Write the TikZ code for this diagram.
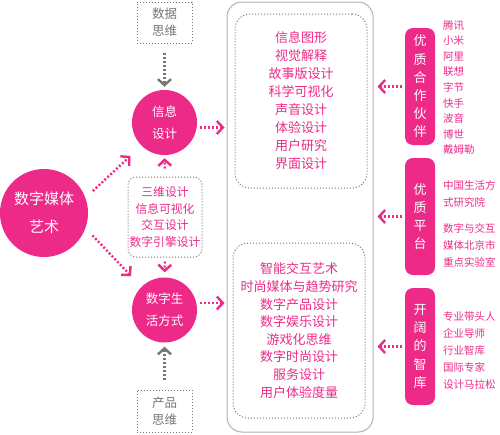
\documentclass[tikz,border=0pt]{standalone}
\usepackage{fontspec}
\setmainfont{Noto Sans CJK SC}
\usetikzlibrary{arrows.meta, positioning}
\usepackage{xcolor}
\definecolor{hotpink}{RGB}{238,42,137}
\definecolor{stonegray}{RGB}{118,118,118}
\definecolor{framegray}{RGB}{178,178,178}
\tikzset{hotpinknode/.style={circle, fill=hotpink, text=white, inner sep=0pt, align=center},hotpinktag/.style={rectangle, rounded corners=8pt, fill=hotpink, text=white, inner sep=0pt, align=center, minimum width=30pt, minimum height=117pt, font=\fontsize{13}{18.2}\selectfont}}
\tikzset{graybox/.style={draw=stonegray, dotted, line width=1pt, text=stonegray, align=center, inner sep=0pt},hotpinklist/.style={text=hotpink, align=left, anchor=west, inner sep=0pt, font=\fontsize{10.5}{15.6}\selectfont}}

\begin{document}
\begin{tikzpicture}[
        x=1pt, y=-1pt,
        pinkarrow/.style={hotpink, line width=2.4pt, dash pattern=on 2pt off 2pt, -{Straight Barb[length=6pt, width=13pt]}},
        grayarrow/.style={stonegray, line width=2.4pt, dash pattern=on 2pt off 2pt, -{Straight Barb[length=6pt, width=13pt]}},
    ]
        \useasboundingbox (0,0) rectangle (500,434);
        % Circles
        \node[hotpinknode, minimum size=88pt, font=\fontsize{15}{28}\selectfont] (art) at (44,213) {数字媒体\\艺术};
        \node[hotpinknode, minimum size=65pt, font=\fontsize{12.5}{22}\selectfont] (info) at (164.5,122.5) {信息\\设计};
        \node[hotpinknode, minimum size=65pt, font=\fontsize{12.5}{22}\selectfont] (life) at (164.5,310) {数字生\\活方式};
        % Thinking boxes
        \node[graybox, minimum width=55pt, minimum height=41pt, font=\fontsize{12.5}{17}\selectfont] (data) at (164.5,22.5) {数据\\思维};
        \node[graybox, minimum width=55pt, minimum height=42pt, font=\fontsize{12.5}{17}\selectfont] (product) at (164.5,411) {产品\\思维};
        \node[graybox, rounded corners=8pt, text=hotpink, minimum width=74pt, minimum height=80pt, font=\fontsize{11.8}{16.7}\selectfont] (skill) at (165,217) {三维设计\\信息可视化\\交互设计\\数字引擎设计};
        % Course frame
        \node[draw=framegray, line width=1pt, rounded corners=15pt, minimum width=146pt, minimum height=430pt] (outer) at (300,217) {};
        \node[graybox, rounded corners=15pt, text=hotpink, minimum width=132pt, minimum height=174pt, font=\fontsize{13}{18}\selectfont] (infocourses) at (301,101) {信息图形\\视觉解释\\故事版设计\\科学可视化\\声音设计\\体验设计\\用户研究\\界面设计};
        \node[graybox, rounded corners=15pt, text=hotpink, minimum width=132pt, minimum height=175pt, font=\fontsize{13}{17.6}\selectfont] (lifecourses) at (299,330.5) {智能交互艺术\\时尚媒体与趋势研究\\数字产品设计\\数字娱乐设计\\游戏化思维\\数字时尚设计\\服务设计\\用户体验度量};
        % Resource tags
        \node[hotpinktag] (partner) at (420,86.5) {优\\质\\合\\作\\伙\\伴};
        \node[hotpinktag] (platform) at (420,216.5) {优\\质\\平\\台};
        \node[hotpinktag] (think) at (420,346.5) {开\\阔\\的\\智\\库};
        \node[hotpinklist] (partnernames) at (443,87.5) {腾讯\\小米\\阿里\\联想\\字节\\快手\\波音\\博世\\戴姆勒};
        \node[hotpinklist, font=\fontsize{10.5}{17}\selectfont] (platformone) at (443,193.5) {中国生活方\\式研究院};
        \node[hotpinklist, font=\fontsize{10.5}{17}\selectfont] (platformtwo) at (443,245) {数字与交互\\媒体北京市\\重点实验室};
        \node[hotpinklist, font=\fontsize{10.5}{17}\selectfont] (thinknames) at (443,351) {专业带头人\\企业导师\\行业智库\\国际专家\\设计马拉松};
        % Arrows
        \draw[pinkarrow, shorten <=10pt, shorten >=15pt] (art.20) -- (info.225);
        \draw[pinkarrow, shorten <=10pt, shorten >=15pt] (art.-20) -- (life.135);
        \draw[grayarrow, shorten <=9pt, shorten >=3pt] (data.south) -- (info.north);
        \draw[grayarrow, shorten <=10pt, shorten >=4pt] (product.north) -- (life.south);
        \draw[pinkarrow, shorten <=8pt, shorten >=3pt] (skill.north) -- (info.south);
        \draw[pinkarrow, shorten <=4pt, shorten >=5pt] (skill.south) -- (life.north);
        \draw[pinkarrow, shorten <=3pt, shorten >=2pt] ([yshift=-5pt]info.east) -- ([yshift=-5pt]info.east -| outer.west);
        \draw[pinkarrow, shorten <=3pt, shorten >=2pt] ([yshift=7pt]life.east) -- ([yshift=7pt]life.east -| outer.west);
        \foreach \tag in {partner, platform, think} {
            \draw[pinkarrow, shorten <=3pt, shorten >=4pt] (\tag.west) -- (\tag.west -| outer.east);
        }
    \end{tikzpicture}
\end{document}
